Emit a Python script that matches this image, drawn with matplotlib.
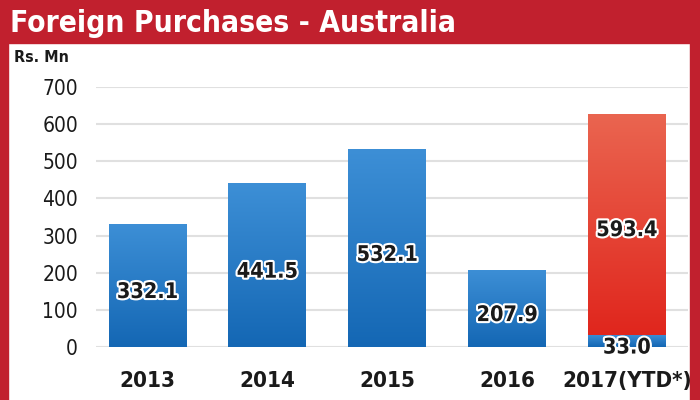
from matplotlib import pyplot as plt
from matplotlib import patheffects as pe
from matplotlib import font_manager as fm
from matplotlib.colors import LinearSegmentedColormap
import numpy as np

years = ["2013", "2014", "2015", "2016", "2017(YTD*)"]
base_values = [332.1, 441.5, 532.1, 207.9, 33.0]
ytd_values = [0, 0, 0, 0, 593.4]
yticks = [0, 100, 200, 300, 400, 500, 600, 700]

RED = "#c1202e"


def find_narrow(bold):
    """look for an installed narrow/condensed face"""
    cands = []
    for f in fm.fontManager.ttflist:
        name = (f.name + " " + f.fname).lower()
        if ("narrow" in name or "condensed" in name) and "mono" not in name and "serif" not in f.name.lower():
            isbold = f.weight in ("bold", 700) or (isinstance(f.weight, int) and f.weight >= 600)
            if isbold == bold and f.style == "normal":
                cands.append(f)
    cands.sort(key=lambda f: (0 if "liberation" in f.name.lower() else 1 if "dejavu" in f.name.lower() else 2))
    if cands:
        return fm.FontProperties(fname=cands[0].fname)
    return fm.FontProperties(family="DejaVu Sans", weight="bold" if bold else "normal")


REG = find_narrow(False)
BOLD = find_narrow(True)


def fp(base, size):
    p = base.copy()
    p.set_size(size)
    return p


fig = plt.figure(figsize=(7, 4), dpi=100)
fig.patch.set_facecolor("white")

# frame: header band + side borders
fig.patches.append(plt.Rectangle((0, 400 - 43), 700, 43, transform=None, color=RED, zorder=0))
fig.patches.append(plt.Rectangle((0, 0), 8, 400, transform=None, color=RED, zorder=0))
fig.patches.append(plt.Rectangle((690, 0), 10, 400, transform=None, color=RED, zorder=0))
fig.text(10 / 700, 1 - 23 / 400, "Foreign Purchases - Australia", color="white",
         fontproperties=fp(BOLD, 21.5), va="center", ha="left")
fig.text(14 / 700, 1 - 57 / 400, "Rs. Mn", color="#1a1a1a", fontproperties=fp(BOLD, 11.5),
         va="center", ha="left")

ax = fig.add_axes([96 / 700, 53 / 400, 592 / 700, 260 / 400])
x = np.arange(len(years))
width = 0.65

blue_cm = LinearSegmentedColormap.from_list("b", ["#1467b4", "#3d8fd6"])
red_cm = LinearSegmentedColormap.from_list("r", ["#e0261d", "#ea6550"])


def gradient_bars(bars, cmap):
    for b in bars:
        h = b.get_height()
        if h <= 0:
            continue
        x0, y0 = b.get_x(), b.get_y()
        grad = np.linspace(0, 1, 256).reshape(-1, 1)
        im = ax.imshow(grad, cmap=cmap, origin="lower", aspect="auto",
                       extent=[x0, x0 + b.get_width(), y0, y0 + h], zorder=2)
        im.set_clip_path(b)
        b.set_alpha(0)


bars_base = ax.bar(x, base_values, width, color="#2a7cc6", zorder=2)
bars_ytd = ax.bar(x, ytd_values, width, bottom=base_values, color="#e3362a", zorder=2)
gradient_bars(bars_base, blue_cm)
gradient_bars(bars_ytd, red_cm)

outline = [pe.withStroke(linewidth=3, foreground="white")]
for xi, v in zip(x, base_values):
    ax.text(xi, v / 2 - 18, f"{v:.1f}", ha="center", va="center", fontproperties=fp(BOLD, 15.5),
            color="#1a1a1a", path_effects=outline, zorder=5)
for xi, b, v in zip(x, base_values, ytd_values):
    if v > 0:
        ax.text(xi, b + v / 2 - 15, f"{v:.1f}", ha="center", va="center", fontproperties=fp(BOLD, 15.5),
                color="#1a1a1a", path_effects=outline, zorder=5)

ax.set_xlim(-0.43, 4.51)
ax.set_ylim(0, 700)
ax.set_yticks(yticks)
ax.set_yticklabels([str(t) for t in yticks], fontproperties=fp(REG, 15), color="#1a1a1a")
ax.set_xticks(x)
ax.set_xticklabels(years, fontproperties=fp(BOLD, 16), color="#1a1a1a")
ax.tick_params(axis="y", length=0, pad=13)
ax.tick_params(axis="x", length=0, pad=17)
ax.yaxis.grid(True, color="#e0e0e0", linewidth=1.5, zorder=0)
ax.set_axisbelow(True)
for s in ax.spines.values():
    s.set_visible(False)

fig.savefig("out.png", dpi=100)
